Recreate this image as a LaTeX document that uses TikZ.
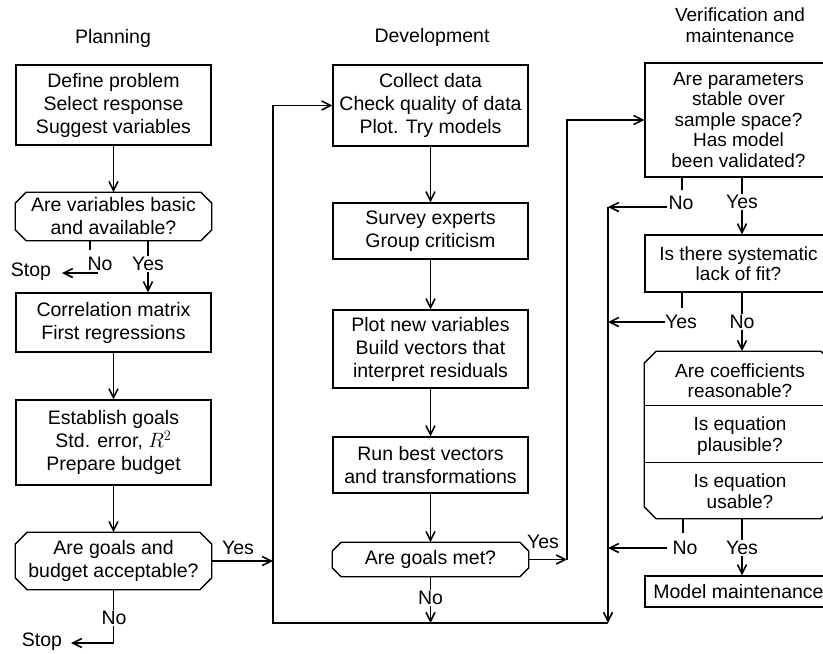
\documentclass[tikz,border=0pt]{standalone}
\usepackage{fontspec}
\setmainfont{Liberation Sans}
\usetikzlibrary{arrows.meta}
\newcommand{\chamfbox}[2]{%
  \draw[line width=1.3pt] ([xshift=#2]#1.north west) -- ([xshift=-#2]#1.north east) -- ([yshift=-#2]#1.north east)
    -- ([yshift=#2]#1.south east) -- ([xshift=-#2]#1.south east) -- ([xshift=#2]#1.south west)
    -- ([yshift=#2]#1.south west) -- ([yshift=-#2]#1.north west) -- cycle;}
\begin{document}
\begin{tikzpicture}[x=1pt,y=-1pt,line width=1.6pt,
  every node/.style={font=\fontsize{19.5}{23}\selectfont, align=center, inner sep=0pt},
  box/.style={draw, line width=1.3pt, minimum width=195pt},
  dec/.style={minimum width=195pt},
  rbox/.style={draw, line width=1.3pt, minimum width=187pt},
  rdec/.style={minimum width=187pt},
  tight/.style={font=\fontsize{19}{20.5}\selectfont},
  lbl/.style={fill=white, inner sep=1.5pt},
  arr/.style={-{Straight Barb[length=9pt,width=9pt]}}]
\useasboundingbox (0,0) rectangle (823,654);
\clip (0,0) rectangle (823,654);
% titles
\node (t1) at (113,38) {Planning};
\node (t2) at (432,37) {Development};
\node[tight] (t3) at (740,25) {Verification and\\maintenance};
% left column
\node[box, minimum height=80pt] (P1) at (113.5,105) {Define problem\\Select response\\Suggest variables};
\node[dec, minimum height=47pt] (PD1) at (113.5,216.5) {Are variables basic\\and available?};
\chamfbox{PD1}{11pt}
\node[box, minimum height=59pt] (P2) at (113.5,322.5) {Correlation matrix\\First regressions};
\node[box, minimum height=85pt] (P3) at (113.5,442.5) {Establish goals\\Std. error, $R^{2}$\\Prepare budget};
\node[dec, minimum height=56pt] (PD2) at (113.5,561) {Are goals and\\budget acceptable?};
\chamfbox{PD2}{12pt}
% middle column
\node[box, minimum height=81pt] (M1) at (430.5,105.5) {Collect data\\Check quality of data\\Plot. Try models};
\node[box, minimum height=56pt] (M2) at (430.5,231) {Survey experts\\Group criticism};
\node[box, minimum height=78pt] (M3) at (430.5,349) {Plot new variables\\Build vectors that\\interpret residuals};
\node[box, minimum height=56pt] (M4) at (430.5,465) {Run best vectors\\and transformations};
\node[dec, minimum height=33pt] (MD) at (430.5,559.5) {Are goals met?};
\chamfbox{MD}{9pt}
% right column
\node[rbox, tight, minimum height=114pt] (V1) at (738.5,120) {Are parameters\\stable over\\sample space?\\Has model\\been validated?};
\node[rbox, tight, minimum height=57pt] (V2) at (738.5,263.5) {Is there systematic\\lack of fit?};
\node[rdec, minimum height=166pt] (V3) at (738.5,435) {};
\chamfbox{V3}{12pt}
\draw[line width=1.3pt] ([yshift=-54pt]V3.north west) -- ([yshift=-54pt]V3.north east);
\draw[line width=1.3pt] ([yshift=-111pt]V3.north west) -- ([yshift=-111pt]V3.north east);
\node[tight] (V3a) at (740,380.5) {Are coefficients\\reasonable?};
\node[tight] (V3b) at (740,436) {Is equation\\plausible?};
\node[tight] (V3c) at (740,491) {Is equation\\usable?};
\node[rbox, minimum height=31pt] (V4) at (738.5,591.5) {Model maintenance};
% left connectors
\draw[arr] (P1) -- (PD1);
\draw[arr] (P2) -- (P3);
\draw[arr] (P3) -- (PD2);
\coordinate (n1a) at (90,250);
\draw (PD1.south -| n1a) -- (n1a);
\node (no1) at (100,264) {No};
\coordinate (s1a) at (98,273);
\coordinate (s1b) at (62,273);
\draw[arr] (s1a) -- (s1b);
\node (stop1) at (31,272) {Stop};
\coordinate (y1a) at (148,0);
\draw[arr] (PD1.south -| y1a) -- (P2.north -| y1a);
\node[lbl] (yes1) at (148,264) {Yes};
\coordinate (lp1) at (273,561);
\draw[arr] (PD2.east) -- (lp1);
\node (yes2) at (238,548) {Yes};
\coordinate (n2a) at (114,643);
\coordinate (n2b) at (71,643);
\draw[arr] (PD2.south) -- (PD2.south |- n2a) -- (n2b);
\node[lbl] (no2) at (114,618) {No};
\node (stop2) at (42,642) {Stop};
% middle connectors
\draw[arr] (M1) -- (M2);
\draw[arr] (M2) -- (M3);
\draw[arr] (M3) -- (M4);
\draw[arr] (M4) -- (MD);
\coordinate (bL) at (273,623);
\coordinate (bR) at (608,623);
\coordinate (rT) at (608,207);
\draw[arr] (rT) -- (bR);
\draw[arr] (bR) -- (bL) |- (M1.west);
\draw[arr] (MD.south) -- (MD.south |- bL);
\node[lbl] (no3) at (430.5,598) {No};
\coordinate (yM) at (567,559.5);
\draw[arr] (MD.east) -- (yM);
\draw[arr] (yM) |- (V1.west);
\node (yes3) at (543,542) {Yes};
% right connectors
\coordinate (xr) at (742,0);
\coordinate (v1n) at (682,190);
\draw (V1.south -| v1n) -- (v1n);
\node (no4) at (681,203) {No};
\coordinate (v1na) at (667,207);
\draw[arr] (v1na) -- (rT);
\draw[arr] (V1.south -| xr) -- (V2.north -| xr);
\node[lbl] (yes4) at (742,202) {Yes};
\coordinate (v2y) at (682,308);
\draw (V2.south -| v2y) -- (v2y);
\node (yes5) at (681,322) {Yes};
\coordinate (v2ya) at (665,322);
\coordinate (r2) at (608,322);
\draw[arr] (v2ya) -- (r2);
\draw[arr] (V2.south -| xr) -- (V3.north -| xr);
\node[lbl] (no5) at (742,322) {No};
\coordinate (v3n) at (683,533);
\draw (V3.south -| v3n) -- (v3n);
\node (no6) at (685,548) {No};
\coordinate (v3na) at (667,548);
\coordinate (r3) at (608,548);
\draw[arr] (v3na) -- (r3);
\draw[arr] (V3.south -| xr) -- (V4.north -| xr);
\node[lbl] (yes6) at (742,548) {Yes};
\end{tikzpicture}
\end{document}
